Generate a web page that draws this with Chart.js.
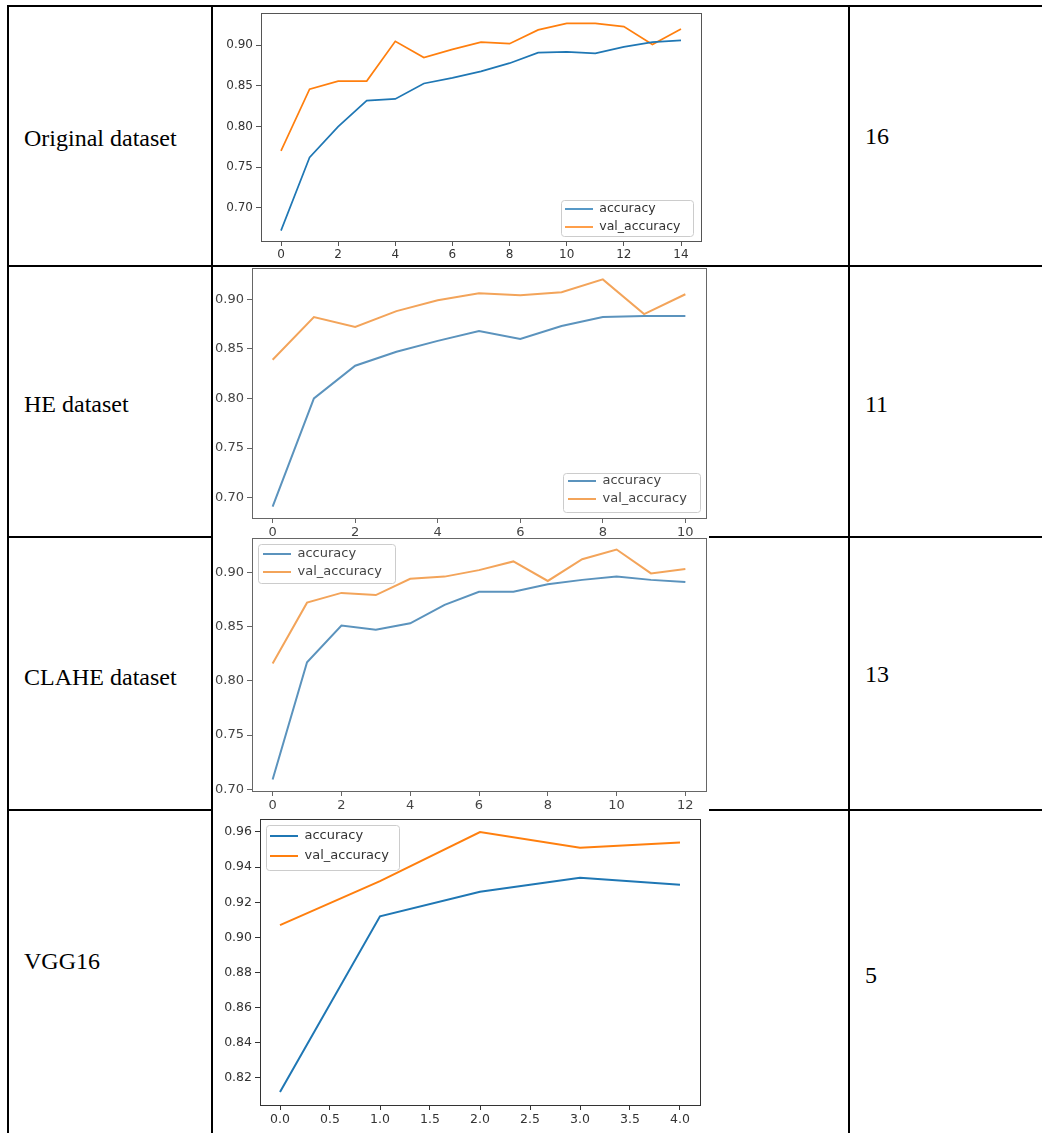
<!DOCTYPE html>
<html>
<head>
<meta charset="utf-8">
<script src="https://cdn.jsdelivr.net/npm/chart.js@4.4.1/dist/chart.umd.min.js"></script>
<style>
  body { margin: 0; background: #fff; }
  #page { position: relative; width: 1042px; height: 1133px; overflow: hidden; background: #fff; }
  .ln { position: absolute; background: #000; }
  .cell { position: absolute; font-family: "Liberation Serif", "Times New Roman", serif; font-size: 24px; line-height: 24px; color: #000; white-space: nowrap; }
  .plot { position: absolute; background: #fff; z-index: 1; }
</style>
</head>
<body>
<div id="page"></div>
<script>
// table text
const rowNames = ["Original dataset", "HE dataset", "CLAHE dataset", "VGG16"];
const epochCounts = ["16", "11", "13", "5"];

// Original dataset
const origEpochs = [0, 1, 2, 3, 4, 5, 6, 7, 8, 9, 10, 11, 12, 13, 14];
const origAcc = [0.672, 0.762, 0.800, 0.832, 0.834, 0.853, 0.860, 0.868, 0.878, 0.891, 0.892, 0.890, 0.898, 0.904, 0.906];
const origValAcc = [0.770, 0.846, 0.856, 0.856, 0.905, 0.885, 0.895, 0.904, 0.902, 0.919, 0.927, 0.927, 0.923, 0.901, 0.920];
const origXTicks = [0, 2, 4, 6, 8, 10, 12, 14];
const origYTicks = [0.70, 0.75, 0.80, 0.85, 0.90];

// HE dataset
const heEpochs = [0, 1, 2, 3, 4, 5, 6, 7, 8, 9, 10];
const heAcc = [0.691, 0.800, 0.833, 0.847, 0.858, 0.868, 0.860, 0.873, 0.882, 0.883, 0.883];
const heValAcc = [0.839, 0.882, 0.872, 0.888, 0.899, 0.906, 0.904, 0.907, 0.920, 0.885, 0.905];
const heXTicks = [0, 2, 4, 6, 8, 10];
const heYTicks = [0.70, 0.75, 0.80, 0.85, 0.90];

// CLAHE dataset
const claheEpochs = [0, 1, 2, 3, 4, 5, 6, 7, 8, 9, 10, 11, 12];
const claheAcc = [0.709, 0.817, 0.851, 0.847, 0.853, 0.870, 0.882, 0.882, 0.889, 0.893, 0.896, 0.893, 0.891];
const claheValAcc = [0.816, 0.872, 0.881, 0.879, 0.894, 0.896, 0.902, 0.910, 0.892, 0.912, 0.921, 0.899, 0.903];
const claheXTicks = [0, 2, 4, 6, 8, 10, 12];
const claheYTicks = [0.70, 0.75, 0.80, 0.85, 0.90];

// VGG16
const vggEpochs = [0, 1, 2, 3, 4];
const vggAcc = [0.812, 0.912, 0.926, 0.934, 0.930];
const vggValAcc = [0.907, 0.932, 0.960, 0.951, 0.954];
const vggXTicks = [0, 0.5, 1, 1.5, 2, 2.5, 3, 3.5, 4];
const vggYTicks = [0.82, 0.84, 0.86, 0.88, 0.90, 0.92, 0.94, 0.96];

const page = document.getElementById("page");

// table lines
[[7, 5, 1035, 2], [7, 5, 2, 1128], [211, 5, 2, 1128], [848, 5, 2, 1128],
 [7, 265, 1035, 2], [7, 536, 1035, 2], [7, 809, 1035, 2]].forEach(r => {
  const d = document.createElement("div");
  d.className = "ln";
  d.style.cssText = `left:${r[0]}px;top:${r[1]}px;width:${r[2]}px;height:${r[3]}px`;
  page.appendChild(d);
});

const nameTops = [126, 392, 665, 949];
const countTops = [124, 392, 662, 963];
rowNames.forEach((t, i) => {
  const a = document.createElement("div");
  a.className = "cell";
  a.style.left = "24px"; a.style.top = nameTops[i] + "px";
  a.textContent = t;
  page.appendChild(a);
  const b = document.createElement("div");
  b.className = "cell";
  b.style.left = "865px"; b.style.top = countTops[i] + "px";
  b.textContent = epochCounts[i];
  page.appendChild(b);
});

// matplotlib-like 5% margins
function range(arrs) {
  const all = [].concat(...arrs);
  const lo = Math.min(...all), hi = Math.max(...all), m = (hi - lo) * 0.05;
  return [lo - m, hi + m];
}

const mplFrame = {
  id: "mplFrame",
  afterLayout(chart, args, o) {
    const a = chart.chartArea, lg = chart.legend;
    const fx = o.corner === "br" ? a.right - o.ix - o.w : a.left + o.ix;
    const fy = o.corner === "br" ? a.bottom - o.iy - o.h : a.top + o.iy;
    chart.$frame = { x: fx, y: fy, w: o.w, h: o.h };
    const p = o.gap - o.font;
    lg.left = fx + o.dx - p;
    lg.top = fy + o.dy - o.font / 2 - p;
    lg.right = fx + o.w;
    lg.bottom = fy + o.h + 20;
    lg.width = lg.right - lg.left;
    lg.height = lg.bottom - lg.top;
  },
  beforeDraw(chart) {
    const f = chart.$frame, ctx = chart.ctx;
    ctx.save();
    ctx.beginPath();
    ctx.roundRect(f.x + 0.5, f.y + 0.5, f.w, f.h, 3);
    ctx.fillStyle = "rgba(255,255,255,0.8)";
    ctx.fill();
    ctx.strokeStyle = "#cccccc";
    ctx.lineWidth = 1;
    ctx.stroke();
    ctx.restore();
  },
  afterDatasetsDraw(chart, args, o) {
    const a = chart.chartArea, ctx = chart.ctx;
    ctx.save();
    ctx.strokeStyle = o.spine;
    ctx.lineWidth = 1;
    ctx.strokeRect(Math.round(a.left) + 0.5, Math.round(a.top) + 0.5,
      Math.round(a.right - a.left), Math.round(a.bottom - a.top));
    ctx.restore();
  }
};

function makeChart(spec) {
  const wrap = document.createElement("div");
  wrap.className = "plot";
  const [l, t, w, h] = spec.box;
  wrap.style.cssText = `left:${l}px;top:${t}px;width:${w}px;height:${h}px`;
  const cv = document.createElement("canvas");
  wrap.appendChild(cv);
  page.appendChild(wrap);

  const [ymin, ymax] = range([spec.acc, spec.val]);
  const [xmin, xmax] = range([spec.epochs]);
  const tickFont = { family: "DejaVu Sans", size: spec.tickSize };
  const grid = { drawOnChartArea: false, drawTicks: true, tickLength: 5, tickColor: spec.spine, lineWidth: 1 };
  const border = { display: true, color: spec.spine, width: 1 };

  new Chart(cv, {
    type: "line",
    data: {
      datasets: [
        { label: "accuracy", data: spec.epochs.map((e, i) => ({ x: e, y: spec.acc[i] })),
          borderColor: spec.blue, backgroundColor: spec.blue, borderWidth: spec.lw, pointRadius: 0, tension: 0 },
        { label: "val_accuracy", data: spec.epochs.map((e, i) => ({ x: e, y: spec.val[i] })),
          borderColor: spec.orange, backgroundColor: spec.orange, borderWidth: spec.lw, pointRadius: 0, tension: 0 }
      ]
    },
    options: {
      responsive: true,
      maintainAspectRatio: false,
      animation: false,
      events: [],
      layout: { padding: spec.pad },
      scales: {
        x: {
          type: "linear", min: xmin, max: xmax,
          afterBuildTicks: ax => { ax.ticks = spec.xTicks.map(v => ({ value: v })); },
          afterFit: s => { s.height = spec.xH; s.paddingLeft = 0; s.paddingRight = 0; },
          ticks: { callback: v => spec.xFmt(v), font: tickFont, color: spec.text, padding: 2, maxRotation: 0, autoSkip: false },
          grid, border
        },
        y: {
          type: "linear", min: ymin, max: ymax,
          afterBuildTicks: ax => { ax.ticks = spec.yTicks.map(v => ({ value: v })); },
          afterFit: s => { s.width = spec.yW; s.paddingTop = 0; s.paddingBottom = 0; },
          ticks: { callback: v => v.toFixed(2), font: tickFont, color: spec.text, padding: 3, autoSkip: false },
          grid, border
        }
      },
      plugins: {
        tooltip: { enabled: false },
        legend: {
          position: "chartArea",
          align: "start",
          labels: {
            usePointStyle: true, pointStyle: "line", pointStyleWidth: 28,
            padding: spec.legend.gap - spec.legend.font,
            font: { family: "DejaVu Sans", size: spec.legend.font },
            color: spec.text
          }
        },
        mplFrame: Object.assign({ spine: spec.spine }, spec.legend)
      }
    },
    plugins: [mplFrame]
  });
}

const intFmt = v => String(v);

makeChart({
  box: [213, 7, 496, 258], pad: { left: 0, top: 6, right: 8, bottom: 0 }, yW: 48, xH: 24,
  epochs: origEpochs, acc: origAcc, val: origValAcc, xTicks: origXTicks, yTicks: origYTicks, xFmt: intFmt,
  blue: "#1f77b4", orange: "#ff7f0e", lw: 1.7, spine: "#555", text: "#333", tickSize: 12,
  legend: { corner: "br", ix: 8, iy: 5, w: 132, h: 36, dx: 4, dy: 9, gap: 18, font: 12.5 }
});

makeChart({
  box: [213, 267, 496, 269], pad: { left: 0, top: 1, right: 3, bottom: 0 }, yW: 39, xH: 18,
  epochs: heEpochs, acc: heAcc, val: heValAcc, xTicks: heXTicks, yTicks: heYTicks, xFmt: intFmt,
  blue: "#5b93bd", orange: "#f3a45a", lw: 2, spine: "#666", text: "#444", tickSize: 13,
  legend: { corner: "br", ix: 6, iy: 6, w: 137, h: 39, dx: 5, dy: 8, gap: 18, font: 13 }
});

makeChart({
  box: [213, 536, 496, 273], pad: { left: 0, top: 2, right: 3, bottom: 0 }, yW: 39, xH: 18,
  epochs: claheEpochs, acc: claheAcc, val: claheValAcc, xTicks: claheXTicks, yTicks: claheYTicks, xFmt: intFmt,
  blue: "#5b93bd", orange: "#f3a45a", lw: 2, spine: "#666", text: "#444", tickSize: 13,
  legend: { corner: "tl", ix: 6, iy: 6, w: 137, h: 39, dx: 5, dy: 10, gap: 18, font: 13 }
});

makeChart({
  box: [213, 809, 496, 324], pad: { left: 0, top: 10, right: 9, bottom: 0 }, yW: 47, xH: 28,
  epochs: vggEpochs, acc: vggAcc, val: vggValAcc, xTicks: vggXTicks, yTicks: vggYTicks, xFmt: v => v.toFixed(1),
  blue: "#1f77b4", orange: "#ff7f0e", lw: 2, spine: "#333", text: "#333", tickSize: 12.5,
  legend: { corner: "tl", ix: 6, iy: 6, w: 133, h: 45, dx: 4, dy: 11, gap: 20, font: 13 }
});
</script>
</body>
</html>
